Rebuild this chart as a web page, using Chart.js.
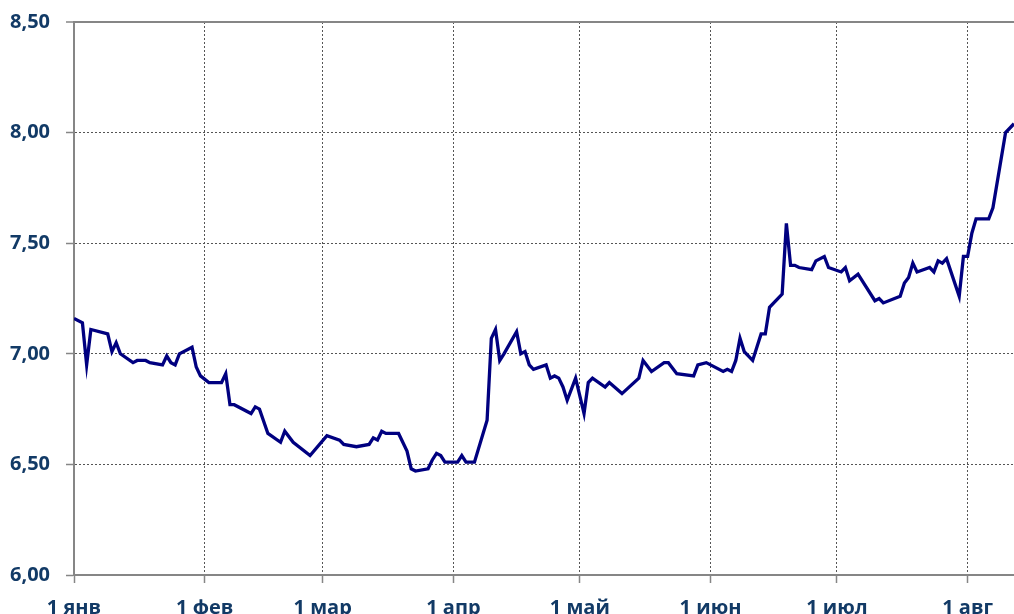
<!DOCTYPE html>
<html>
<head>
<meta charset="utf-8">
<script src="https://cdn.jsdelivr.net/npm/chart.js@4/dist/chart.umd.min.js"></script>
<style>
  html, body { margin: 0; padding: 0; background: #fff; overflow: hidden; }
  #frame { width: 1014px; height: 614px; overflow: hidden; }
  #box { width: 1014px; height: 640px; position: relative; }
</style>
</head>
<body>
<div id="frame"><div id="box"><canvas id="rateChart"></canvas></div></div>
<script>
// day of year (1 янв = 0) and rate
const days = [
  0, 2, 3, 4, 8, 9, 10, 11, 14, 15, 17, 18, 21, 22, 23, 24, 25, 28, 29, 30,
  32, 35, 36, 37, 38, 42, 43, 44, 46, 49, 50, 52, 56, 60, 63, 64, 67, 70, 71, 72,
  73, 74, 77, 79, 80, 81, 84, 85, 86, 87, 88, 91, 92, 93, 95, 98, 99, 100, 101, 102,
  105, 106, 107, 108, 109, 112, 113, 114, 115, 116, 117, 119, 121, 122, 123, 126, 127, 130, 134, 135,
  137, 140, 141, 143, 147, 148, 150, 154, 155, 156, 157, 158, 159, 161, 163, 164, 165, 168, 169, 170,
  171, 172, 175, 176, 178, 179, 182, 183, 184, 186, 190, 191, 192, 196, 197, 198, 199, 200, 203, 204,
  205, 206, 207, 210, 211, 212, 213, 214, 217, 218, 221, 223
];
const rates = [
  7.16, 7.14, 6.95, 7.11, 7.09, 7.01, 7.05, 7.00, 6.96, 6.97, 6.97, 6.96, 6.95, 6.99, 6.96, 6.95, 7.00, 7.03, 6.94, 6.90,
  6.87, 6.87, 6.91, 6.77, 6.77, 6.73, 6.76, 6.75, 6.64, 6.60, 6.65, 6.60, 6.54, 6.63, 6.61, 6.59, 6.58, 6.59, 6.62, 6.61,
  6.65, 6.64, 6.64, 6.56, 6.48, 6.47, 6.48, 6.52, 6.55, 6.54, 6.51, 6.51, 6.54, 6.51, 6.51, 6.70, 7.07, 7.11, 6.97, 7.00,
  7.10, 7.00, 7.01, 6.95, 6.93, 6.95, 6.89, 6.90, 6.89, 6.85, 6.79, 6.89, 6.73, 6.87, 6.89, 6.85, 6.87, 6.82, 6.89, 6.97,
  6.92, 6.96, 6.96, 6.91, 6.90, 6.95, 6.96, 6.92, 6.93, 6.92, 6.97, 7.07, 7.01, 6.97, 7.09, 7.09, 7.21, 7.27, 7.59, 7.40,
  7.40, 7.39, 7.38, 7.42, 7.44, 7.39, 7.37, 7.39, 7.33, 7.36, 7.24, 7.25, 7.23, 7.26, 7.32, 7.345, 7.41, 7.37, 7.39, 7.37,
  7.42, 7.41, 7.43, 7.26, 7.44, 7.44, 7.545, 7.61, 7.61, 7.66, 8.00, 8.04
];
const monthStarts = [0, 31, 59, 90, 120, 151, 181, 212];
const monthLabels = ['1 янв', '1 фев', '1 мар', '1 апр', '1 май', '1 июн', '1 июл', '1 авг'];
const lastDay = 223;

const labelColor = '#123A66';
const axisColor = '#868686';
const gridColor = '#555555';

const ctx = document.getElementById('rateChart').getContext('2d');

new Chart(ctx, {
  type: 'line',
  data: {
    datasets: [{
      data: days.map((d, i) => ({ x: d, y: rates[i] })),
      borderColor: '#000080',
      borderWidth: 3.3,
      pointRadius: 0,
      tension: 0,
      fill: false
    }]
  },
  options: {
    responsive: true,
    maintainAspectRatio: false,
    animation: false,
    layout: { padding: { top: 22, right: 0, left: 0, bottom: 0 } },
    plugins: { legend: { display: false }, tooltip: { enabled: false } },
    scales: {
      x: {
        type: 'linear',
        min: 0,
        max: lastDay,
        afterBuildTicks: scale => { scale.ticks = monthStarts.map(v => ({ value: v })); },
        afterFit: scale => { scale.height = 65; },
        ticks: {
          autoSkip: false,
          maxRotation: 0,
          padding: 13,
          color: labelColor,
          font: { family: 'Open Sans', size: 20, weight: 'bold' },
          callback: value => monthLabels[monthStarts.indexOf(value)]
        },
        grid: {
          color: gridColor,
          lineWidth: 1,
          tickLength: 8,
          tickColor: axisColor,
          tickWidth: 1.5,
          tickBorderDash: []
        },
        border: { color: axisColor, width: 2, dash: [2, 2] }
      },
      y: {
        min: 6,
        max: 8.5,
        afterFit: scale => {
          scale.width = 74;
          scale.paddingTop = 0;
          scale.paddingBottom = 0;
        },
        ticks: {
          stepSize: 0.5,
          padding: 16,
          color: labelColor,
          font: { family: 'Open Sans', size: 20, weight: 'bold' },
          callback: value => value.toFixed(2).replace('.', ',')
        },
        grid: {
          color: c => (c.tick && c.tick.value === 8.5) ? axisColor : gridColor,
          lineWidth: c => (c.tick && c.tick.value === 8.5) ? 2 : 1,
          tickLength: 8,
          tickColor: axisColor,
          tickWidth: 1.5,
          tickBorderDash: []
        },
        border: {
          color: axisColor,
          width: 2,
          dash: c => (c.tick && c.tick.value === 8.5) ? [] : [2, 2]
        }
      }
    }
  }
});
</script>
</body>
</html>
